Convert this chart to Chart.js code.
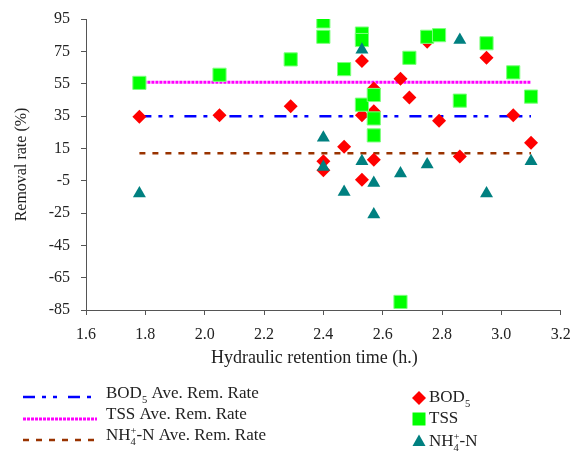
<!DOCTYPE html>
<html>
<head>
<meta charset="utf-8">
<style>
html, body { margin: 0; padding: 0; background: #fff; }
#wrap { width: 571px; height: 453px; }
</style>
<script src="https://cdn.jsdelivr.net/npm/chart.js@4.4.1/dist/chart.umd.min.js"></script>
</head>
<body>
<div id="wrap"><canvas id="chart" width="571" height="453"></canvas></div>
<script>
// hydraulic retention time (h.) and removal rate (%) per sample
const bodHrt  = [1.78, 2.05, 2.29, 2.40, 2.40, 2.47, 2.53, 2.53, 2.53, 2.57, 2.57, 2.57, 2.66, 2.69, 2.75, 2.79, 2.86, 2.95, 3.04, 3.10];
const bodRate = [34.5, 35.5, 41, 7, 1.5, 16, 69, 35.5, -4.5, 52, 38, 8, 58, 46.5, 81, 32, 10, 71, 35.5, 18.5];

const tssHrt  = [1.78, 2.05, 2.29, 2.40, 2.40, 2.47, 2.53, 2.53, 2.53, 2.57, 2.57, 2.57, 2.66, 2.69, 2.75, 2.79, 2.86, 2.95, 3.04, 3.10];
const tssRate = [55.5, 60.5, 70, 93.5, 84, 64, 86, 82, 42, 48, 33.5, 23, -80, 71, 84, 85, 44.5, 80, 62, 47];

const nhHrt  = [1.78, 2.40, 2.40, 2.47, 2.53, 2.53, 2.57, 2.57, 2.66, 2.75, 2.86, 2.95, 3.10];
const nhRate = [-13, 21.5, 3.5, -12, 76, 7, -6.5, -26, -0.5, 5, 82, -13, 7];

// average removal rates, drawn across the HRT range
const avgRange = [1.78, 3.10];
const bodAvg = 34.8;
const tssAvg = 55.9;
const nhAvg  = 12;

const xTicks = [1.6, 3.2, 0.2];   // min, max, step
const yTicks = [-85, 95, 20];

const serif = "'Liberation Serif', 'Times New Roman', serif";
const textColor = '#222';
const axisColor = '#555';

function pts(xs, ys) {
    return xs.map((x, i) => ({ x: x, y: ys[i] }));
}
function flat(v) {
    return avgRange.map(x => ({ x: x, y: v }));
}

// legend drawn under the plot, two columns
const lineLegend = [
    { parts: [['BOD'], ['5', 'sub'], [' Ave. Rem. Rate']], color: '#0000ff', dash: [12, 7, 4, 7, 4, 11], width: 2.5 },
    { parts: [['TSS Ave. Rem. Rate']], color: '#ff00ff', dash: [3, 1], width: 3 },
    { parts: [['NH'], ['4', 'sub'], ['+', 'sup'], ['-N Ave. Rem. Rate']], color: '#993300', dash: [6, 7], width: 2.5 }
];
const markLegend = [
    { parts: [['BOD'], ['5', 'sub']], color: '#ff0000', shape: 'diamond' },
    { parts: [['TSS']], color: '#00ff00', shape: 'square' },
    { parts: [['NH'], ['4', 'sub'], ['+', 'sup'], ['-N']], color: '#008080', shape: 'triangle' }
];

// text with sub/superscripts; a sub followed by a sup share the same slot
function drawRich(ctx, parts, x, y, size) {
    ctx.textBaseline = 'middle';
    ctx.textAlign = 'left';
    ctx.fillStyle = textColor;
    let slot = 0;
    parts.forEach((p, i) => {
        let s = size, dy = 0;
        if (p[1] === 'sub') { s = size * 0.62; dy = size * 0.38; }
        if (p[1] === 'sup') { s = size * 0.62; dy = -size * 0.28; }
        ctx.font = s + 'px ' + serif;
        ctx.fillText(p[0], x, y + dy);
        const w = ctx.measureText(p[0]).width;
        const next = parts[i + 1];
        if (p[1] === 'sub' && next && next[1] === 'sup') {
            slot = w;
        } else {
            x += Math.max(w, slot);
            slot = 0;
        }
    });
}

function drawShape(ctx, shape, x, y, color) {
    ctx.fillStyle = color;
    ctx.beginPath();
    if (shape === 'diamond') {
        ctx.moveTo(x - 7, y); ctx.lineTo(x, y - 7); ctx.lineTo(x + 7, y); ctx.lineTo(x, y + 7);
    } else if (shape === 'square') {
        ctx.rect(x - 6.5, y - 6.5, 13, 13);
    } else {
        ctx.moveTo(x, y - 7.5); ctx.lineTo(x + 6.5, y + 4); ctx.lineTo(x - 6.5, y + 4);
    }
    ctx.closePath();
    ctx.fill();
}

const legendPlugin = {
    id: 'underLegend',
    afterDraw(chart) {
        const ctx = chart.ctx;
        ctx.save();
        const textRows = [394, 415, 436];
        const lineRows = [397, 419, 440];
        lineLegend.forEach((item, i) => {
            ctx.strokeStyle = item.color;
            ctx.lineWidth = item.width;
            ctx.setLineDash(item.dash);
            ctx.beginPath();
            ctx.moveTo(23, lineRows[i]);
            ctx.lineTo(97, lineRows[i]);
            ctx.stroke();
            ctx.setLineDash([]);
            drawRich(ctx, item.parts, 106, textRows[i], 17);
        });
        const markRows = [398, 419, 442];
        markLegend.forEach((item, i) => {
            drawShape(ctx, item.shape, 419, markRows[i], item.color);
            drawRich(ctx, item.parts, 429, markRows[i], 17);
        });
        ctx.restore();
    }
};

const ctx = document.getElementById('chart').getContext('2d');
new Chart(ctx, {
    type: 'scatter',
    data: {
        datasets: [
            {
                label: 'NH4+-N', data: pts(nhHrt, nhRate), order: 0,
                pointStyle: 'triangle', pointRadius: 7.5, pointHoverRadius: 7.5,
                backgroundColor: '#008080', borderColor: '#008080', borderWidth: 0
            },
            {
                label: 'TSS', data: pts(tssHrt, tssRate), order: 1,
                pointStyle: 'rect', pointRadius: 9.3, pointHoverRadius: 9.3,
                backgroundColor: '#00ff00', borderColor: '#7dff7d', borderWidth: 1
            },
            {
                label: 'BOD5', data: pts(bodHrt, bodRate), order: 2,
                pointStyle: 'rectRot', pointRadius: 7, pointHoverRadius: 7,
                backgroundColor: '#ff0000', borderColor: '#ff0000', borderWidth: 0
            },
            {
                label: 'BOD5 Ave. Rem. Rate', data: flat(bodAvg), order: 3, showLine: true,
                pointRadius: 0, borderColor: '#0000ff', borderWidth: 2.5, borderDash: [12, 7, 4, 7, 4, 11]
            },
            {
                label: 'TSS Ave. Rem. Rate', data: flat(tssAvg), order: 4, showLine: true,
                pointRadius: 0, borderColor: '#ff00ff', borderWidth: 3, borderDash: [3, 1]
            },
            {
                label: 'NH4+-N Ave. Rem. Rate', data: flat(nhAvg), order: 5, showLine: true,
                pointRadius: 0, borderColor: '#993300', borderWidth: 2.5, borderDash: [6, 7]
            }
        ]
    },
    options: {
        responsive: false,
        animation: false,
        layout: { padding: { left: 0, top: 19, right: 8, bottom: 83 } },
        plugins: {
            legend: { display: false },
            tooltip: { enabled: false }
        },
        scales: {
            x: {
                type: 'linear',
                min: xTicks[0], max: xTicks[1],
                afterFit: s => { s.height = 60; s.paddingLeft = 0; s.paddingRight = 0; },
                ticks: {
                    stepSize: xTicks[2], padding: 10,
                    color: textColor, font: { family: serif, size: 16 },
                    callback: v => v.toFixed(1)
                },
                grid: { drawOnChartArea: false, tickLength: 5, color: axisColor },
                border: { color: axisColor, width: 1 },
                title: {
                    display: true, text: 'Hydraulic retention time (h.)    ',
                    color: textColor, font: { family: serif, size: 18 },
                    padding: { top: 0, bottom: 1 }
                }
            },
            y: {
                min: yTicks[0], max: yTicks[1],
                afterFit: s => { s.width = 86; s.paddingTop = 0; s.paddingBottom = 0; },
                ticks: {
                    stepSize: yTicks[2], padding: 11,
                    color: textColor, font: { family: serif, size: 16 }
                },
                grid: { drawOnChartArea: false, tickLength: 5, color: axisColor },
                border: { color: axisColor, width: 1 },
                title: {
                    display: true, text: 'Removal rate (%)',
                    color: textColor, font: { family: serif, size: 16 },
                    padding: { top: 12, bottom: 0 }
                }
            }
        }
    },
    plugins: [legendPlugin]
});
</script>
</body>
</html>
